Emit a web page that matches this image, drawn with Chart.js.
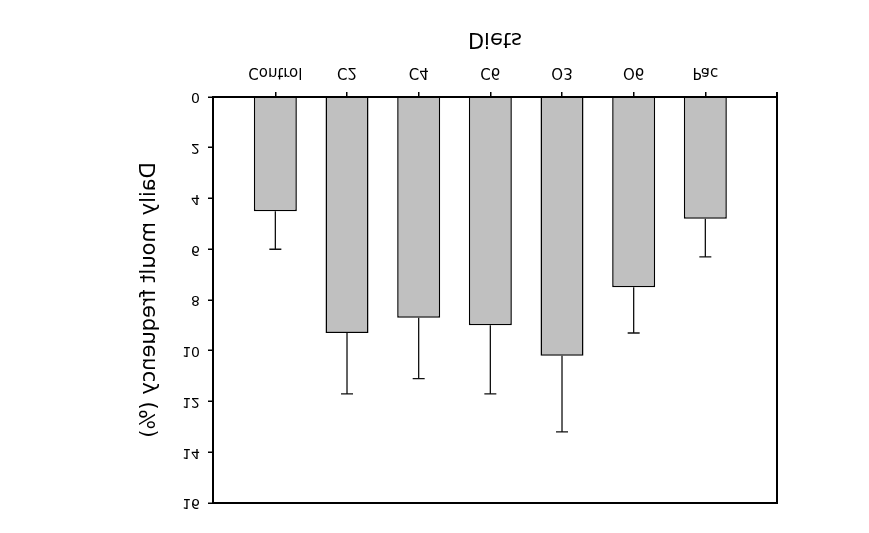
<!DOCTYPE html>
<html>
<head>
<meta charset="utf-8">
<script src="https://cdn.jsdelivr.net/npm/chart.js@4"></script>
<style>
  html, body { margin: 0; padding: 0; background: #fff; }
  /* the reference picture is mirrored top-to-bottom, so the canvas is flipped */
  #moultChart { display: block; transform: scaleY(-1); }
</style>
</head>
<body>
<canvas id="moultChart" width="869" height="533"></canvas>
<script>
// Diets on the x axis
const diets = ['Control', 'C2', 'C4', 'C6', 'O3', 'O6', 'Pac'];
// mean daily moult frequency (%)
const moultMeans = [4.5, 9.3, 8.7, 9.0, 10.2, 7.5, 4.8];
// upper error bar length (SD)
const moultErrors = [1.5, 2.4, 2.4, 2.7, 3.0, 1.8, 1.5];
// y axis ticks
const yTicks = [0, 2, 4, 6, 8, 10, 12, 14, 16];

const errorBars = {
  id: 'errorBars',
  afterDatasetsDraw(chart) {
    const ctx = chart.ctx;
    const xs = chart.scales.x, ys = chart.scales.y;
    ctx.save();
    ctx.strokeStyle = '#111';
    ctx.lineWidth = 1.3;
    moultMeans.forEach((m, i) => {
      const x = xs.getPixelForValue(i);
      const y1 = ys.getPixelForValue(m);
      const y2 = ys.getPixelForValue(m + moultErrors[i]);
      ctx.beginPath();
      ctx.moveTo(x, y1);
      ctx.lineTo(x, y2);
      ctx.moveTo(x - 6, y2);
      ctx.lineTo(x + 6, y2);
      ctx.stroke();
    });
    ctx.restore();
  }
};

// box around the plot
const frame = {
  id: 'frame',
  afterDraw(chart) {
    const a = chart.chartArea;
    const ctx = chart.ctx;
    ctx.save();
    ctx.strokeStyle = '#000';
    ctx.lineWidth = 2;
    ctx.beginPath();
    ctx.moveTo(a.left, a.bottom);
    ctx.lineTo(a.left, a.top);
    ctx.lineTo(a.right, a.top);
    ctx.lineTo(a.right, a.bottom + 5);
    ctx.moveTo(a.left, a.bottom);
    ctx.lineTo(a.right, a.bottom);
    ctx.stroke();
    ctx.restore();
  }
};

const ctx = document.getElementById('moultChart').getContext('2d');

new Chart(ctx, {
  type: 'bar',
  data: {
    datasets: [
      {
        data: moultMeans.map((v, i) => ({ x: i, y: v })),
        backgroundColor: '#c0c0c0',
        borderColor: '#000',
        borderWidth: 1.5,
        barPercentage: 0.6,
        categoryPercentage: 1
      }
    ]
  },
  options: {
    responsive: false,
    animation: false,
    layout: { padding: { top: 30, right: 92, bottom: 0, left: 0 } },
    plugins: { legend: { display: false }, tooltip: { enabled: false } },
    scales: {
      x: {
        type: 'linear',
        min: -0.87,
        max: 7.0,
        offset: false,
        afterFit: s => { s.height = 97; },
        afterBuildTicks: s => { s.ticks = diets.map((d, i) => ({ value: i })); },
        grid: { offset: false, drawOnChartArea: false, drawTicks: true, tickLength: 5, color: '#000', lineWidth: 1.5 },
        border: { display: true, color: '#000', width: 2 },
        ticks: {
          autoSkip: false,
          maxRotation: 0,
          padding: 11,
          color: '#000',
          font: { family: 'DejaVu Sans', size: 15 },
          callback: v => diets[v]
        },
        title: {
          display: true,
          text: 'Diets',
          color: '#000',
          font: { family: 'DejaVu Sans', size: 21 },
          padding: { top: 0, bottom: 26 }
        }
      },
      y: {
        min: 0,
        max: 16,
        afterFit: s => { s.width = 213; },
        afterBuildTicks: s => { s.ticks = yTicks.map(v => ({ value: v })); },
        grid: { drawOnChartArea: false, drawTicks: true, tickLength: 5, color: '#000', lineWidth: 1.5 },
        border: { display: true, color: '#000', width: 2 },
        ticks: {
          padding: 8,
          color: '#000',
          font: { family: 'DejaVu Sans', size: 14 }
        },
        title: {
          display: true,
          text: 'Daily moult frequency (%)',
          color: '#000',
          font: { family: 'DejaVu Sans', size: 21 },
          padding: { top: 137, bottom: 0 }
        }
      }
    }
  },
  plugins: [errorBars, frame]
});
</script>
</body>
</html>
